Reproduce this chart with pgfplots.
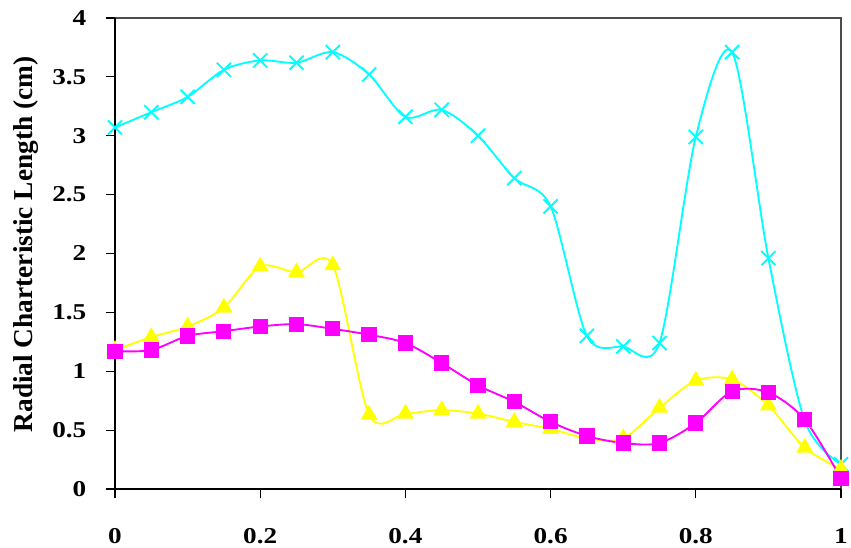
\documentclass[border=0pt]{standalone}
\usepackage{pgfplots}
\pgfplotsset{compat=1.18}
\usepackage{fontspec}
\setmainfont{Liberation Serif}
\newfontfamily\tickfont[FakeStretch=1.2]{Liberation Serif}
\definecolor{cy}{RGB}{0,255,255}
\definecolor{mg}{RGB}{255,0,255}
\definecolor{yl}{RGB}{255,255,0}
\begin{document}
\begin{tikzpicture}[x=1pt,y=1pt]
\begin{axis}[
  scale only axis,
  width=544.5pt, height=353.25pt,
  xmin=0, xmax=1, ymin=0, ymax=4,
  xtick={0,0.2,0.4,0.6,0.8,1},
  ytick={0,0.5,1,1.5,2,2.5,3,3.5,4},
  xtick pos=bottom, ytick pos=left,
  tick align=outside,
  major tick length=7pt,
  tick style={black, line width=0.9pt},
  axis line style={line width=0.9pt},
  /pgf/number format/assume math mode=true,
  ticklabel style={font=\fontsize{17}{19}\tickfont\bfseries},
  xticklabel style={yshift=-19pt},
  yticklabel style={xshift=-11pt},
  ylabel={Radial Charteristic Length (cm)},
  every axis y label/.style={at={(rel axis cs:0,0.5)}, xshift=-66.75pt, yshift=6.75pt, rotate=90, anchor=center, font=\fontsize{20.5}{23}\selectfont\bfseries},
  clip=false,
]
\addplot[cy, line width=1.4pt, smooth, tension=0.5, mark=x, mark size=7.5pt, mark options={line width=1.4pt}] coordinates {
(0,3.07) (0.05,3.20) (0.1,3.33) (0.15,3.56) (0.2,3.64) (0.25,3.62) (0.3,3.71) (0.35,3.52) (0.4,3.16) (0.45,3.22) (0.5,3.00) (0.55,2.64) (0.6,2.40) (0.65,1.30) (0.7,1.21) (0.75,1.24) (0.8,2.99) (0.85,3.71) (0.9,1.96) (0.95,0.58) (1.0,0.21)};
\addplot[yl, line width=1.4pt, smooth, tension=0.5, mark=triangle*, mark size=6pt, mark options={solid}] coordinates {
(0,1.18) (0.05,1.29) (0.1,1.38) (0.15,1.54) (0.2,1.89) (0.25,1.84) (0.3,1.90) (0.35,0.63) (0.4,0.64) (0.45,0.67) (0.5,0.64) (0.55,0.57) (0.6,0.51) (0.65,0.43) (0.7,0.43) (0.75,0.69) (0.8,0.92) (0.85,0.93) (0.9,0.71) (0.95,0.35) (1.0,0.17)};
\addplot[mg, line width=1.4pt, smooth, tension=0.5, mark=square*, mark size=5pt, mark options={solid}] coordinates {
(0,1.17) (0.05,1.18) (0.1,1.30) (0.15,1.34) (0.2,1.38) (0.25,1.40) (0.3,1.36) (0.35,1.31) (0.4,1.24) (0.45,1.07) (0.5,0.88) (0.55,0.74) (0.6,0.57) (0.65,0.45) (0.7,0.39) (0.75,0.39) (0.8,0.56) (0.85,0.83) (0.9,0.82) (0.95,0.59) (1.0,0.09)};
\draw[black!70, line width=0.9pt] (rel axis cs:0,1) -- (rel axis cs:1,1) -- (rel axis cs:1,0);
\draw[black, line width=0.9pt] (rel axis cs:0,1) -- (rel axis cs:0,0) -- (rel axis cs:1,0);
\end{axis}
\pgfresetboundingbox
\path[use as bounding box] (-86.25pt,-44.25pt) rectangle (552pt,366.75pt);
\end{tikzpicture}
\end{document}
